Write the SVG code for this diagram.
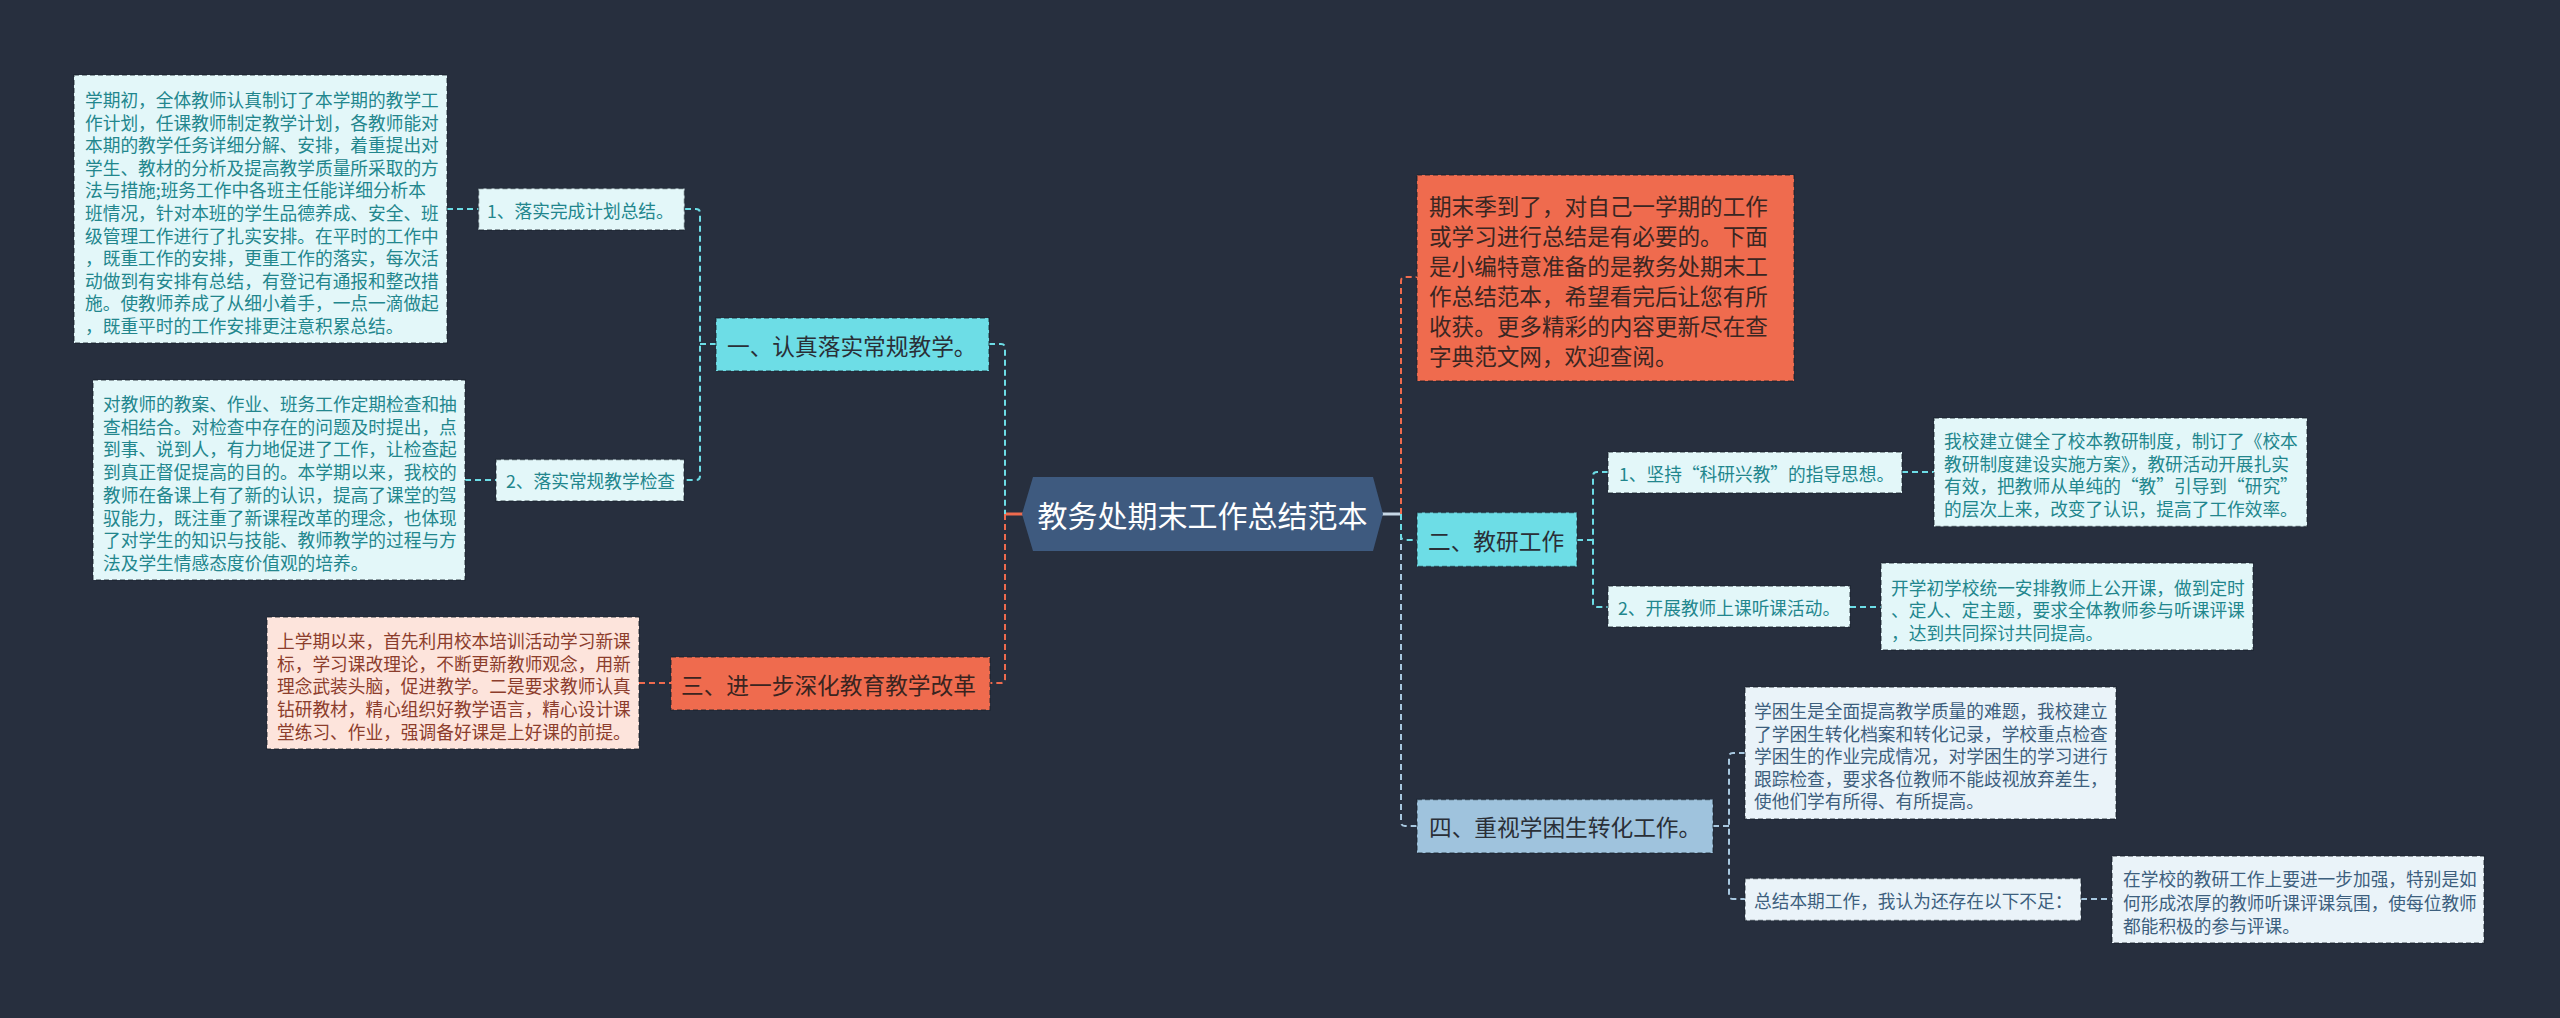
<svg xmlns="http://www.w3.org/2000/svg" width="2560" height="1018" viewBox="0 0 2560 1018">
<style>
.bg{fill:#272f3e}
.t{font-family:"Noto Sans CJK SC","Noto Sans",sans-serif;dominant-baseline:central}
.leaf{font-size:17.7px;fill:#22868d}
.leafp{font-size:17.7px;fill:#8c3d2c}
.leafb{font-size:17.7px;fill:#3d5f7e}
.l1{font-size:22.7px;fill:#2a2f37}
.intro{font-size:22.6px;fill:#3a2622}
.root{font-size:30px;fill:#ffffff}
.box{stroke:rgba(20,30,40,0.55);stroke-width:1.5;stroke-dasharray:5 3}
.fc{fill:#e3f7f9}
.fp{fill:#fde4dc}
.fb{fill:#eaf3f9}
.cy{fill:#6ddde6}
.or{fill:#ef6b4e}
.lb{fill:#9fc3dd}
.c{fill:none;stroke-width:2;stroke-dasharray:6 4}
.ccy{stroke:#6ddde6}
.cor{stroke:#ef6b4e}
.clb{stroke:#a8c8e0}
</style>
<rect class="bg" x="0" y="0" width="2560" height="1018"/>

<g id="connectors">
  <line x1="1005" y1="514" x2="1023" y2="514" stroke="#ef6b4e" stroke-width="3"/>
  <line x1="1382" y1="514" x2="1401" y2="514" stroke="#c7d8e6" stroke-width="3"/>
  <path class="c ccy" d="M989,344 H1001 Q1005,344 1005,348 V514"/>
  <path class="c cor" d="M1005,514 V679 Q1005,683 1001,683 H990"/>
  <path class="c ccy" d="M685,209 H696 Q700,209 700,213 V476 Q700,480 696,480 H684"/>
  <path class="c ccy" d="M700,344 H716"/>
  <path class="c ccy" d="M447,209 H479"/>
  <path class="c ccy" d="M465,480 H496"/>
  <path class="c cor" d="M639,683 H671"/>
  <path class="c cor" d="M1401,514 V281 Q1401,277 1405,277 H1417"/>
  <path class="c clb" d="M1401,514 V822 Q1401,826 1405,826 H1417"/>
  <path class="c ccy" d="M1401,514 V536 Q1401,540 1405,540 H1417"/>
  <path class="c ccy" d="M1577,540 H1593"/>
  <path class="c ccy" d="M1608,472 H1597 Q1593,472 1593,476 V603 Q1593,607 1597,607 H1608"/>
  <path class="c ccy" d="M1902,472 H1934"/>
  <path class="c ccy" d="M1850,607 H1881"/>
  <path class="c clb" d="M1713,826 H1729"/>
  <path class="c clb" d="M1745,753 H1733 Q1729,753 1729,757 V895 Q1729,899 1733,899 H1745"/>
  <path class="c clb" d="M2081,899 H2112"/>
</g>

<g id="root">
  <polygon points="1022,514 1033,477 1373,477 1383,514 1373,551 1033,551" fill="#3e5a7f"/>
  <text class="t root" x="1202.5" y="514" text-anchor="middle">教务处期末工作总结范本</text>
</g>

<g id="n1">
  <rect class="box cy" x="716" y="318" width="273" height="53"/>
  <text class="t l1" x="727" y="345">一、认真落实常规教学。</text>
</g>
<g id="n1-1">
  <rect class="box fc" x="478.5" y="188.5" width="206" height="41.5"/>
  <text class="t leaf" x="487" y="209.5">1、落实完成计划总结。</text>
</g>
<g id="n1-1-1">
  <rect class="box fc" x="74" y="75" width="373" height="268"/>
  <text class="t leaf" x="85" y="99">
    <tspan x="85" y="99">学期初，全体教师认真制订了本学期的教学工</tspan>
    <tspan x="85" y="121.6">作计划，任课教师制定教学计划，各教师能对</tspan>
    <tspan x="85" y="144.2">本期的教学任务详细分解、安排，着重提出对</tspan>
    <tspan x="85" y="166.8">学生、教材的分析及提高教学质量所采取的方</tspan>
    <tspan x="85" y="189.4">法与措施;班务工作中各班主任能详细分析本</tspan>
    <tspan x="85" y="212">班情况，针对本班的学生品德养成、安全、班</tspan>
    <tspan x="85" y="234.6">级管理工作进行了扎实安排。在平时的工作中</tspan>
    <tspan x="85" y="257.2">，既重工作的安排，更重工作的落实，每次活</tspan>
    <tspan x="85" y="279.8">动做到有安排有总结，有登记有通报和整改措</tspan>
    <tspan x="85" y="302.4">施。使教师养成了从细小着手，一点一滴做起</tspan>
    <tspan x="85" y="325">，既重平时的工作安排更注意积累总结。</tspan>
  </text>
</g>
<g id="n1-2">
  <rect class="box fc" x="496" y="459.5" width="188" height="41.5"/>
  <text class="t leaf" x="506" y="480">2、落实常规教学检查</text>
</g>
<g id="n1-2-1">
  <rect class="box fc" x="93" y="380" width="372" height="200"/>
  <text class="t leaf">
    <tspan x="103" y="403">对教师的教案、作业、班务工作定期检查和抽</tspan>
    <tspan x="103" y="425.7">查相结合。对检查中存在的问题及时提出，点</tspan>
    <tspan x="103" y="448.4">到事、说到人，有力地促进了工作，让检查起</tspan>
    <tspan x="103" y="471.1">到真正督促提高的目的。本学期以来，我校的</tspan>
    <tspan x="103" y="493.8">教师在备课上有了新的认识，提高了课堂的驾</tspan>
    <tspan x="103" y="516.5">驭能力，既注重了新课程改革的理念，也体现</tspan>
    <tspan x="103" y="539.2">了对学生的知识与技能、教师教学的过程与方</tspan>
    <tspan x="103" y="561.9">法及学生情感态度价值观的培养。</tspan>
  </text>
</g>

<g id="n3">
  <rect class="box or" x="671" y="657" width="319" height="53"/>
  <text class="t l1" x="681" y="684" style="fill:#3a2420">三、进一步深化教育教学改革</text>
</g>
<g id="n3-1">
  <rect class="box fp" x="267" y="617" width="372" height="132"/>
  <text class="t leafp">
    <tspan x="277" y="640">上学期以来，首先利用校本培训活动学习新课</tspan>
    <tspan x="277" y="662.7">标，学习课改理论，不断更新教师观念，用新</tspan>
    <tspan x="277" y="685.4">理念武装头脑，促进教学。二是要求教师认真</tspan>
    <tspan x="277" y="708.1">钻研教材，精心组织好教学语言，精心设计课</tspan>
    <tspan x="277" y="730.8">堂练习、作业，强调备好课是上好课的前提。</tspan>
  </text>
</g>

<g id="intro">
  <rect class="box or" x="1417" y="175" width="377" height="206"/>
  <text class="t intro">
    <tspan x="1429" y="205">期末季到了，对自己一学期的工作</tspan>
    <tspan x="1429" y="235">或学习进行总结是有必要的。下面</tspan>
    <tspan x="1429" y="265">是小编特意准备的是教务处期末工</tspan>
    <tspan x="1429" y="295">作总结范本，希望看完后让您有所</tspan>
    <tspan x="1429" y="325">收获。更多精彩的内容更新尽在查</tspan>
    <tspan x="1429" y="355">字典范文网，欢迎查阅。</tspan>
  </text>
</g>

<g id="n2">
  <rect class="box cy" x="1417" y="512.5" width="160" height="54"/>
  <text class="t l1" x="1428" y="540">二、教研工作</text>
</g>
<g id="n2-1">
  <rect class="box fc" x="1608" y="452" width="294" height="41"/>
  <text class="t leaf" x="1619" y="472.5">1、坚持“科研兴教”的指导思想。</text>
</g>
<g id="n2-1-1">
  <rect class="box fc" x="1934" y="418" width="373" height="108.5"/>
  <text class="t leaf">
    <tspan x="1944" y="440">我校建立健全了校本教研制度，制订了《校本</tspan>
    <tspan x="1944" y="462.5">教研制度建设实施方案》，教研活动开展扎实</tspan>
    <tspan x="1944" y="485">有效，把教师从单纯的“教”引导到“研究”</tspan>
    <tspan x="1944" y="507.5">的层次上来，改变了认识，提高了工作效率。</tspan>
  </text>
</g>
<g id="n2-2">
  <rect class="box fc" x="1608" y="586" width="242" height="41"/>
  <text class="t leaf" x="1618" y="607">2、开展教师上课听课活动。</text>
</g>
<g id="n2-2-1">
  <rect class="box fc" x="1881" y="563" width="372" height="87"/>
  <text class="t leaf">
    <tspan x="1891" y="586.7">开学初学校统一安排教师上公开课，做到定时</tspan>
    <tspan x="1891" y="609.2">、定人、定主题，要求全体教师参与听课评课</tspan>
    <tspan x="1891" y="631.7">，达到共同探讨共同提高。</tspan>
  </text>
</g>

<g id="n4">
  <rect class="box lb" x="1417" y="799.5" width="296" height="53.5"/>
  <text class="t l1" x="1429" y="826.5">四、重视学困生转化工作。</text>
</g>
<g id="n4-1">
  <rect class="box fb" x="1745" y="687" width="371" height="132"/>
  <text class="t leafb">
    <tspan x="1754" y="710">学困生是全面提高教学质量的难题，我校建立</tspan>
    <tspan x="1754" y="732.5">了学困生转化档案和转化记录，学校重点检查</tspan>
    <tspan x="1754" y="755">学困生的作业完成情况，对学困生的学习进行</tspan>
    <tspan x="1754" y="777.5">跟踪检查，要求各位教师不能歧视放弃差生，</tspan>
    <tspan x="1754" y="800">使他们学有所得、有所提高。</tspan>
  </text>
</g>
<g id="n4-2">
  <rect class="box fb" x="1745" y="878.5" width="336" height="42"/>
  <text class="t leafb" x="1754" y="899.5">总结本期工作，我认为还存在以下不足：</text>
</g>
<g id="n4-2-1">
  <rect class="box fb" x="2112" y="856" width="372" height="87"/>
  <text class="t leafb">
    <tspan x="2123" y="878">在学校的教研工作上要进一步加强，特别是如</tspan>
    <tspan x="2123" y="901.5">何形成浓厚的教师听课评课氛围，使每位教师</tspan>
    <tspan x="2123" y="925">都能积极的参与评课。</tspan>
  </text>
</g>
</svg>
